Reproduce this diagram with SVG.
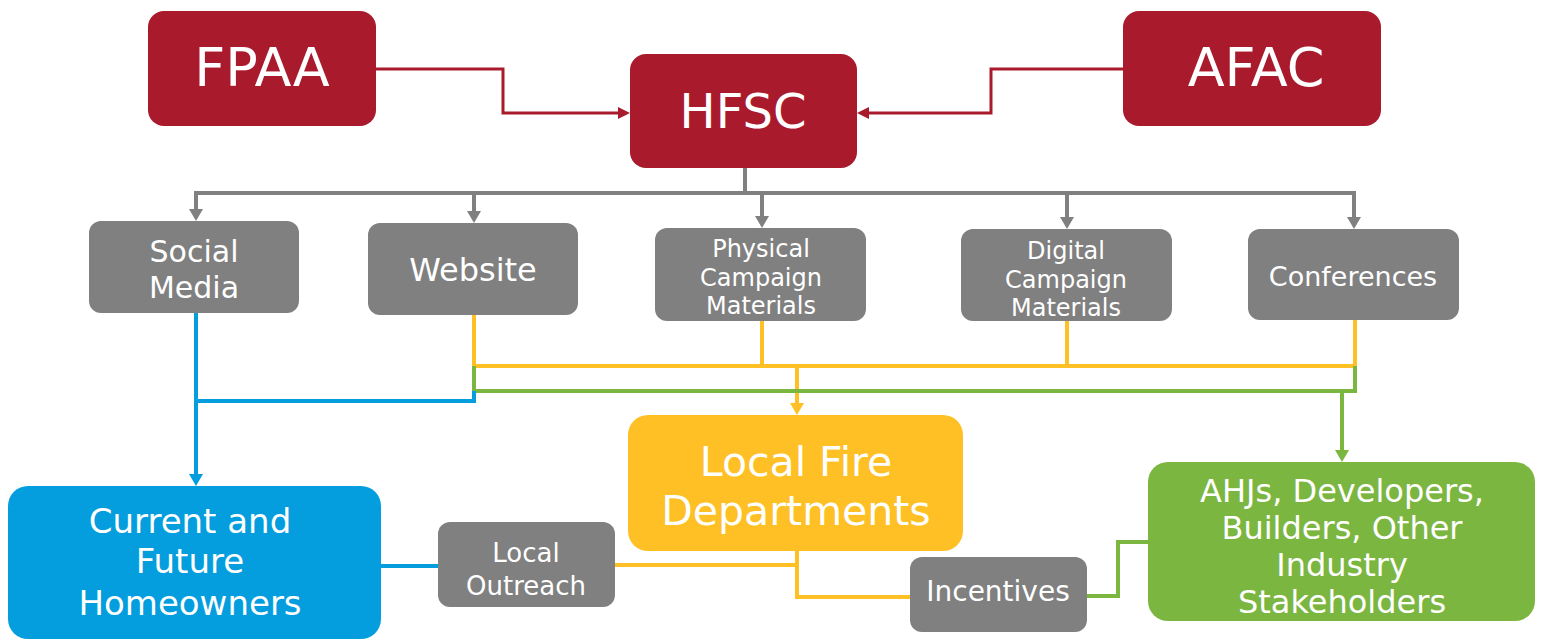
<svg xmlns="http://www.w3.org/2000/svg" width="1543" height="641" viewBox="0 0 1543 641">
  <defs>
    <style>
      .lbl { font-family: "DejaVu Sans", Verdana, sans-serif; fill: #ffffff; text-anchor: middle; }
      .red { fill: #aa1a2d; }
      .gray { fill: #808080; }
      .blue { fill: #049ddd; }
      .yellow { fill: #fec024; }
      .green { fill: #7bb641; }
      .ln { fill: none; stroke-linejoin: miter; stroke-linecap: square; }
      .l-red { stroke: #aa1a2d; stroke-width: 3; }
      .l-gray { stroke: #808080; stroke-width: 4; }
      .l-yellow { stroke: #fec024; stroke-width: 4; }
      .l-green { stroke: #7bb641; stroke-width: 4; }
      .l-blue { stroke: #049ddd; stroke-width: 4; }
    </style>
    <marker id="arr-red" markerUnits="userSpaceOnUse" markerWidth="12" markerHeight="12" refX="0" refY="6" orient="auto">
      <path d="M0,0 L12,6 L0,12 z" fill="#aa1a2d"/>
    </marker>
    <marker id="arr-gray" markerUnits="userSpaceOnUse" markerWidth="12" markerHeight="14" refX="0" refY="7" orient="auto">
      <path d="M0,0 L12,7 L0,14 z" fill="#808080"/>
    </marker>
    <marker id="arr-yellow" markerUnits="userSpaceOnUse" markerWidth="12" markerHeight="14" refX="0" refY="7" orient="auto">
      <path d="M0,0 L12,7 L0,14 z" fill="#fec024"/>
    </marker>
    <marker id="arr-green" markerUnits="userSpaceOnUse" markerWidth="12" markerHeight="14" refX="0" refY="7" orient="auto">
      <path d="M0,0 L12,7 L0,14 z" fill="#7bb641"/>
    </marker>
    <marker id="arr-blue" markerUnits="userSpaceOnUse" markerWidth="12" markerHeight="14" refX="0" refY="7" orient="auto">
      <path d="M0,0 L12,7 L0,14 z" fill="#049ddd"/>
    </marker>
  </defs>

  <rect width="1543" height="641" fill="#ffffff"/>

  <!-- connectors -->
  <g id="connectors">
    <!-- sponsors into HFSC -->
    <path class="ln l-red" d="M376 69 H503 V113 H618" marker-end="url(#arr-red)"/>
    <path class="ln l-red" d="M1123 69 H991 V113 H869" marker-end="url(#arr-red)"/>

    <!-- HFSC distribution bus -->
    <path class="ln l-gray" d="M745 168 V193"/>
    <path class="ln l-gray" d="M196 193 H1354"/>
    <path class="ln l-gray" d="M196 193 V209" marker-end="url(#arr-gray)"/>
    <path class="ln l-gray" d="M474 193 V211" marker-end="url(#arr-gray)"/>
    <path class="ln l-gray" d="M762 193 V216" marker-end="url(#arr-gray)"/>
    <path class="ln l-gray" d="M1067 193 V217" marker-end="url(#arr-gray)"/>
    <path class="ln l-gray" d="M1354 193 V217" marker-end="url(#arr-gray)"/>

    <!-- channels to fire departments -->
    <path class="ln l-yellow" d="M474 315 V366 H1355 V320"/>
    <path class="ln l-yellow" d="M762 321 V366"/>
    <path class="ln l-yellow" d="M1067 321 V366"/>
    <path class="ln l-yellow" d="M797 366 V403" marker-end="url(#arr-yellow)"/>

    <!-- channels to industry -->
    <path class="ln l-green" d="M474 368 V391 H1355 V368"/>
    <path class="ln l-green" d="M1342 391 V450" marker-end="url(#arr-green)"/>

    <!-- channels to homeowners -->
    <path class="ln l-blue" d="M196 313 V474" marker-end="url(#arr-blue)"/>
    <path class="ln l-blue" d="M196 401 H474 V393"/>
    <path class="ln l-blue" d="M383 566 H438" stroke-linecap="butt"/>

    <!-- fire department links -->
    <path class="ln l-yellow" d="M616 565 H797 V553"/>
    <path class="ln l-yellow" d="M797 565 V597 H908"/>

    <!-- incentives to industry -->
    <path class="ln l-green" d="M1089 596 H1118 V542 H1146"/>
  </g>

  <!-- nodes -->
  <g id="fpaa">
    <rect class="red" x="148" y="11" width="228" height="115" rx="16"/>
    <text class="lbl" x="262" y="86" font-size="54">FPAA</text>
  </g>
  <g id="hfsc">
    <rect class="red" x="630" y="54" width="227" height="114" rx="16"/>
    <text class="lbl" x="743" y="128" font-size="48">HFSC</text>
  </g>
  <g id="afac">
    <rect class="red" x="1123" y="11" width="258" height="115" rx="16"/>
    <text class="lbl" x="1256" y="86" font-size="54">AFAC</text>
  </g>

  <g id="social-media">
    <rect class="gray" x="89" y="221" width="210" height="92" rx="12"/>
    <text class="lbl" x="194" y="262" font-size="30">Social</text>
    <text class="lbl" x="194" y="298" font-size="30">Media</text>
  </g>
  <g id="website">
    <rect class="gray" x="368" y="223" width="210" height="92" rx="12"/>
    <text class="lbl" x="473" y="281" font-size="32">Website</text>
  </g>
  <g id="physical-materials">
    <rect class="gray" x="655" y="228" width="211" height="93" rx="12"/>
    <text class="lbl" x="761" y="257" font-size="24">Physical</text>
    <text class="lbl" x="761" y="286" font-size="24">Campaign</text>
    <text class="lbl" x="761" y="314" font-size="24">Materials</text>
  </g>
  <g id="digital-materials">
    <rect class="gray" x="961" y="229" width="211" height="92" rx="12"/>
    <text class="lbl" x="1066" y="259" font-size="24">Digital</text>
    <text class="lbl" x="1066" y="288" font-size="24">Campaign</text>
    <text class="lbl" x="1066" y="316" font-size="24">Materials</text>
  </g>
  <g id="conferences">
    <rect class="gray" x="1248" y="229" width="211" height="91" rx="12"/>
    <text class="lbl" x="1353" y="286" font-size="27">Conferences</text>
  </g>

  <g id="homeowners">
    <rect class="blue" x="8" y="486" width="373" height="153" rx="20"/>
    <text class="lbl" x="190" y="533" font-size="34">Current and</text>
    <text class="lbl" x="190" y="573" font-size="34">Future</text>
    <text class="lbl" x="190" y="615" font-size="34">Homeowners</text>
  </g>
  <g id="local-outreach">
    <rect class="gray" x="438" y="522" width="177" height="85" rx="12"/>
    <text class="lbl" x="526" y="562" font-size="26">Local</text>
    <text class="lbl" x="526" y="595" font-size="26">Outreach</text>
  </g>
  <g id="fire-departments">
    <rect class="yellow" x="628" y="415" width="335" height="136" rx="20"/>
    <text class="lbl" x="796" y="476" font-size="41">Local Fire</text>
    <text class="lbl" x="796" y="525" font-size="41">Departments</text>
  </g>
  <g id="incentives">
    <rect class="gray" x="910" y="557" width="177" height="75" rx="12"/>
    <text class="lbl" x="998" y="601" font-size="28">Incentives</text>
  </g>
  <g id="industry">
    <rect class="green" x="1148" y="462" width="387" height="159" rx="20"/>
    <text class="lbl" x="1342" y="502" font-size="32">AHJs, Developers,</text>
    <text class="lbl" x="1342" y="539" font-size="32">Builders, Other</text>
    <text class="lbl" x="1342" y="576" font-size="32">Industry</text>
    <text class="lbl" x="1342" y="613" font-size="32">Stakeholders</text>
  </g>
</svg>
